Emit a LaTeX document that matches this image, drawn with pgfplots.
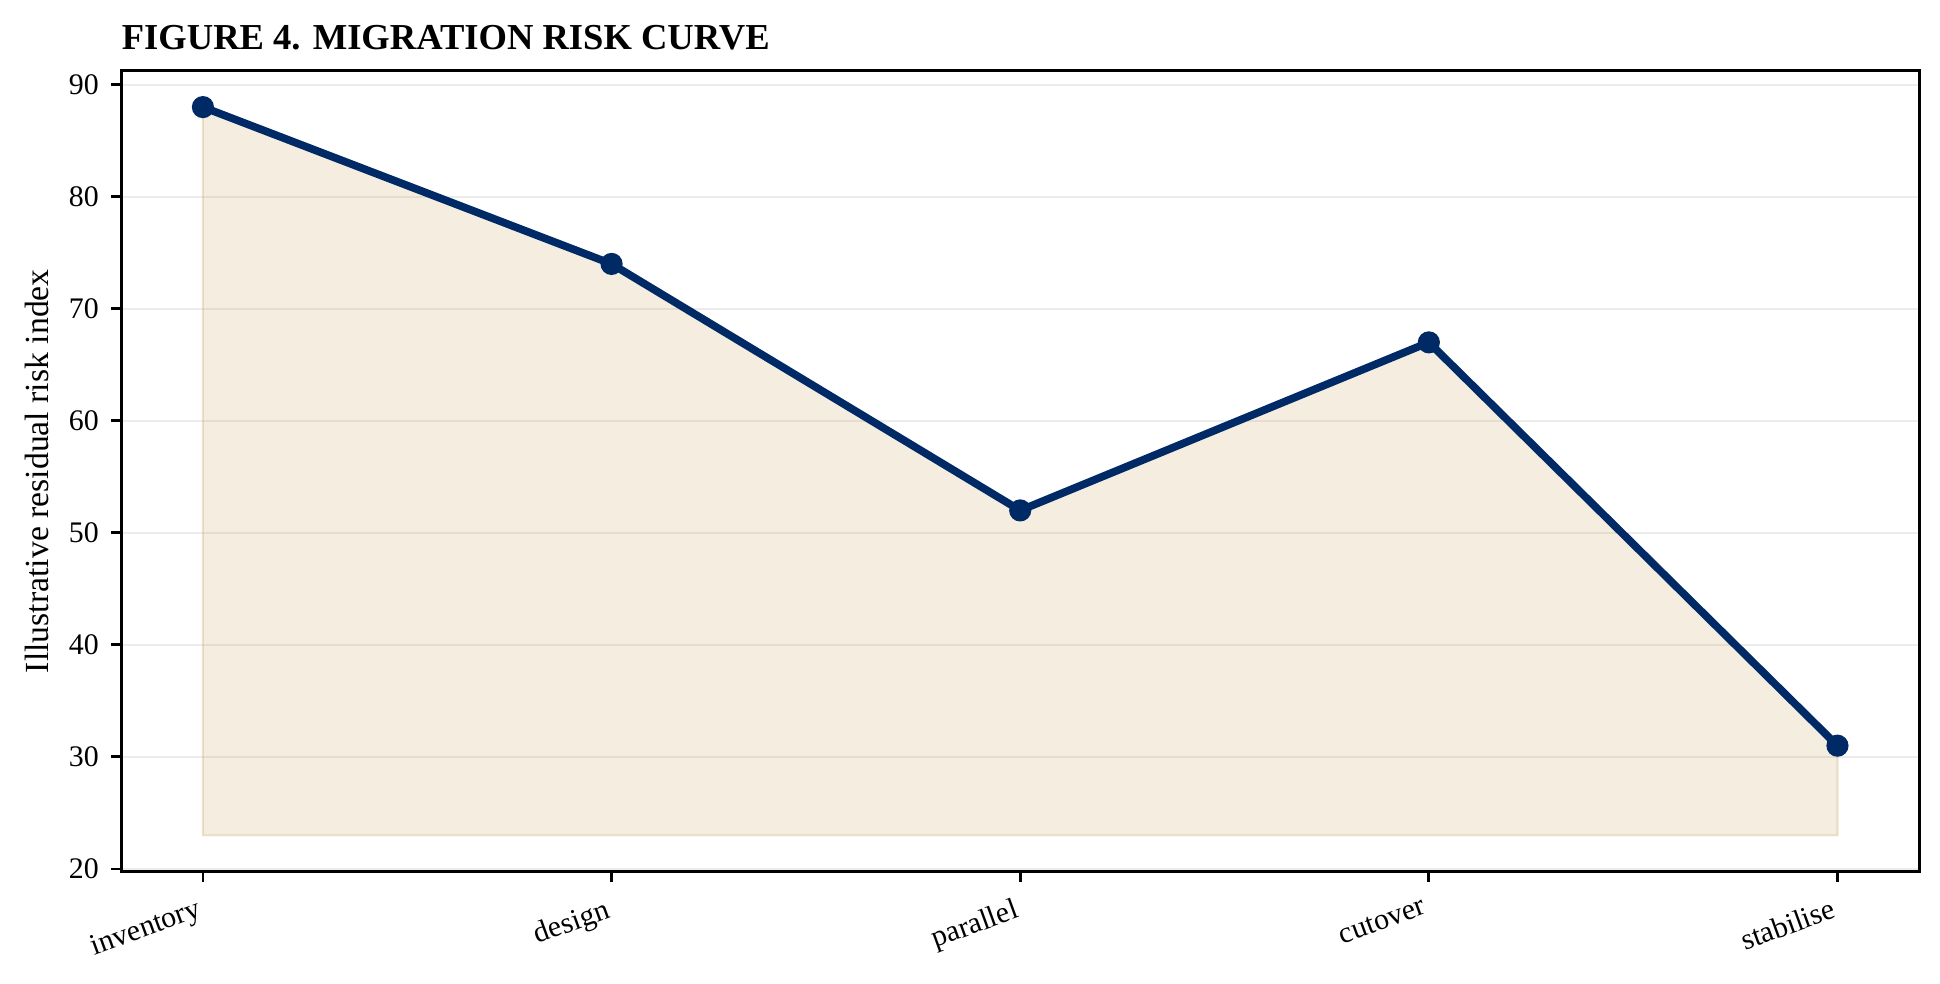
\documentclass[border=0pt]{standalone}
\usepackage{fontspec}
\setmainfont{Liberation Serif}
\usepackage{pgfplots}
\pgfplotsset{compat=1.18}

\definecolor{navy}{RGB}{0,42,102}
\definecolor{tan}{RGB}{200,165,100}
\definecolor{gridgray}{RGB}{236,236,236}

\begin{document}
\begin{tikzpicture}
  \useasboundingbox (-1.212cm,-1.113cm) rectangle (18.188cm,8.717cm);
  \begin{axis}[
      scale only axis,
      width=17.98cm, height=8.01cm,
      xmin=-0.2, xmax=4.2,
      ymin=19.75, ymax=91.25,
      xtick=data,
      xticklabels={inventory,design,parallel,cutover,stabilise},
      ytick={20,30,...,90},
      x tick label style={rotate=20, anchor=north east, font=\fontsize{8.5}{10}\selectfont},
      y tick label style={font=\fontsize{8.5}{10}\selectfont},
      /pgf/number format/assume math mode=true,
      tick align=outside,
      xtick pos=bottom, ytick pos=left,
      major tick length=0.1cm,
      tick style={line width=0.8pt, black},
      axis line style={line width=0.8pt},
      ymajorgrids,
      grid style={gridgray, line width=0.6pt},
      ylabel={Illustrative residual risk index},
      ylabel style={at={(axis description cs:-0.047,0.5)}, anchor=center, font=\fontsize{9.6}{11}\selectfont},
      clip=false,
    ]
    % shaded area down to the baseline
    \addplot[fill=tan, fill opacity=0.2, draw=tan, draw opacity=0.3, line width=0.6pt] coordinates {
        (0,23) (0,88) (1,74) (2,52) (3,67) (4,31) (4,23)
      } -- cycle;
    \addplot[navy, line width=2.2pt, mark=*, mark size=2.9pt, mark options={fill=navy, draw=navy, line width=0.5pt}] coordinates {
        (0,88)
        (1,74)
        (2,52)
        (3,67)
        (4,31)
      };
    \node[anchor=base west, inner sep=0pt, font=\bfseries\fontsize{10.4}{12}\selectfont]
      at ([yshift=0.21cm]rel axis cs:0,1) {FIGURE 4. MIGRATION RISK CURVE};
  \end{axis}
\end{tikzpicture}
\end{document}
